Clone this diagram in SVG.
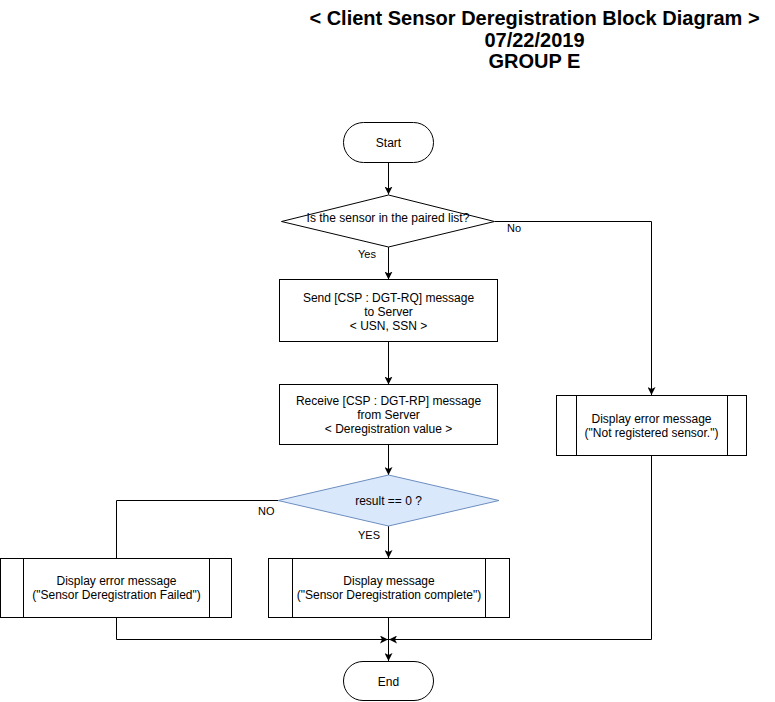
<svg xmlns="http://www.w3.org/2000/svg" width="775" height="702" viewBox="0 0 775 702">
<defs>
<marker id="arr" viewBox="0 0 8 8" refX="8" refY="4" markerWidth="8" markerHeight="8" markerUnits="userSpaceOnUse" orient="auto">
<path d="M0,0 L8,4 L0,8 L2,4 z" fill="#000"/>
</marker>
<style>
.n{fill:#fff;stroke:#000;stroke-width:1}
.d{fill:#dae8fc;stroke:#6c8ebf;stroke-width:1}
.c{fill:none;stroke:#000;stroke-width:1}
.ca{fill:none;stroke:#000;stroke-width:1;marker-end:url(#arr)}
.t{font-family:"Liberation Sans",Arial,sans-serif;font-size:12px;fill:#000;text-anchor:middle}
.l{font-family:"Liberation Sans",Arial,sans-serif;font-size:11px;fill:#000}
.h{font-family:"Liberation Sans",Arial,sans-serif;font-size:20px;font-weight:bold;fill:#000;text-anchor:middle}
</style>
</defs>
<rect width="775" height="702" fill="#fff"/>
<g id="title">
<text class="h" x="534.5" y="25">&lt; Client Sensor Deregistration Block Diagram &gt;</text>
<text class="h" x="534.5" y="47">07/22/2019</text>
<text class="h" x="534.5" y="68">GROUP E</text>
</g>
<g id="connectors">
<path class="ca" d="M388.5,162.5 L388.5,194.5"/>
<path class="ca" d="M388.5,247 L388.5,279.5"/>
<path class="ca" d="M495,221.5 L651.5,221.5 L651.5,395"/>
<path class="ca" d="M388.5,341.5 L388.5,384.5"/>
<path class="ca" d="M388.5,444.5 L388.5,475"/>
<path class="c" d="M278,500.5 L116.5,500.5 L116.5,558.5"/>
<path class="ca" d="M388.5,526 L388.5,558"/>
<path class="ca" d="M388.5,617.5 L388.5,661"/>
<path class="ca" d="M116.5,617.5 L116.5,639.5 L388,639.5"/>
<path class="ca" d="M651.5,455.5 L651.5,639.5 L389,639.5"/>
<text class="l" x="507" y="232">No</text>
<text class="l" x="358" y="258">Yes</text>
<text class="l" x="258" y="515">NO</text>
<text class="l" x="358" y="539">YES</text>
</g>
<g id="start">
<rect class="n" x="343.5" y="122.5" width="90" height="40" rx="20" ry="20"/>
<text class="t" x="388.5" y="146.5">Start</text>
</g>
<g id="paired">
<polygon class="n" points="281.5,221.5 388.5,195 494.5,221.5 388.5,247"/>
<text class="t" x="388" y="222">Is the sensor in the paired list?</text>
</g>
<g id="send">
<rect class="n" x="279.5" y="279.5" width="218" height="62"/>
<text class="t" x="388.5" y="301.5">Send [CSP : DGT-RQ] message</text>
<text class="t" x="388.5" y="315.5">to Server</text>
<text class="t" x="388.5" y="329.5">&lt; USN, SSN &gt;</text>
</g>
<g id="receive">
<rect class="n" x="279.5" y="384.5" width="218" height="60"/>
<text class="t" x="388.5" y="405">Receive [CSP : DGT-RP] message</text>
<text class="t" x="388.5" y="419">from Server</text>
<text class="t" x="388.5" y="433">&lt; Deregistration value &gt;</text>
</g>
<g id="result">
<polygon class="d" points="278,500.5 388.5,475 499,500.5 388.5,526"/>
<text class="t" x="388.5" y="504.5">result == 0 ?</text>
</g>
<g id="notreg">
<rect class="n" x="556.5" y="395.5" width="190" height="60"/>
<path class="c" d="M576.5,395.5 V455.5 M727.5,395.5 V455.5"/>
<text class="t" x="651.5" y="423">Display error message</text>
<text class="t" x="651.5" y="437">("Not registered sensor.")</text>
</g>
<g id="failed">
<rect class="n" x="0.5" y="558.5" width="231" height="59"/>
<path class="c" d="M23.5,558.5 V617.5 M209.5,558.5 V617.5"/>
<text class="t" x="116.5" y="584.5">Display error message</text>
<text class="t" x="116.5" y="598.5">("Sensor Deregistration Failed")</text>
</g>
<g id="complete">
<rect class="n" x="268.5" y="558.5" width="241" height="59"/>
<path class="c" d="M292.5,558.5 V617.5 M485.5,558.5 V617.5"/>
<text class="t" x="389" y="584.5">Display message</text>
<text class="t" x="389" y="598.5">("Sensor Deregistration complete")</text>
</g>
<g id="end">
<rect class="n" x="343.5" y="661.5" width="90" height="39" rx="19.5" ry="19.5"/>
<text class="t" x="388.5" y="685.5">End</text>
</g>
</svg>
